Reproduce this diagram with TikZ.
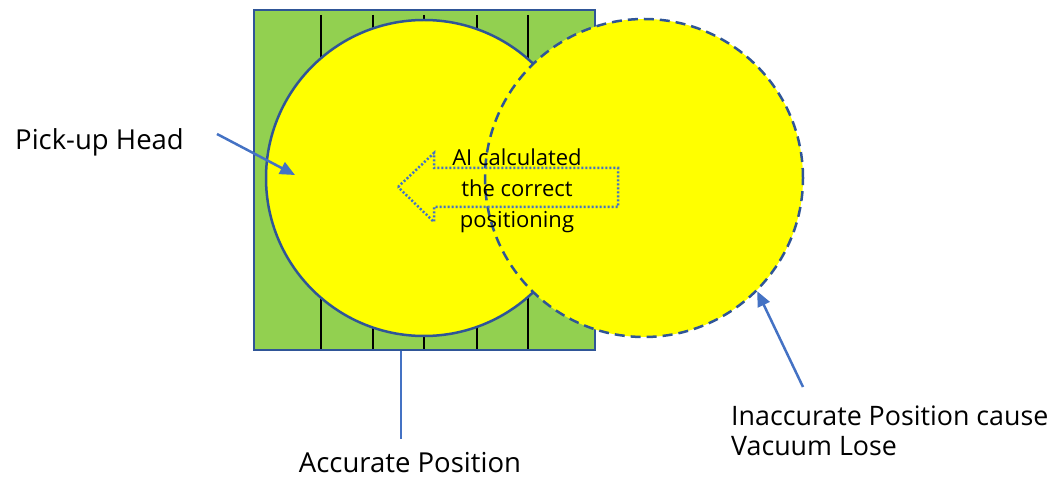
\documentclass[tikz,border=0pt]{standalone}
\usepackage{fontspec}
\setmainfont{Open Sans}
\usetikzlibrary{arrows.meta,positioning}

\definecolor{board}{HTML}{92D050}
\definecolor{padfill}{HTML}{FFFF00}
\definecolor{rim}{HTML}{2F5597}
\definecolor{callout}{HTML}{4472C4}

\begin{document}
\begin{tikzpicture}[x=1pt,y=-1pt,
	pad/.style={circle,minimum size=316pt,inner sep=0pt,fill=padfill,draw=rim,line width=2.5pt},
	lbl/.style={font=\fontsize{27.5}{30}\selectfont,inner sep=0pt},
	pointer/.style={draw=callout,line width=2.5pt,-{Triangle[length=15pt,width=13pt]}}]
\useasboundingbox (0,0) rectangle (1055,478);
% board with leads
\draw[rim,line width=2.5pt,fill=board] (254,10) rectangle (595,350);
\foreach \x in {321,373,424,477,528}
	\draw[black,line width=2.5pt] (\x,15) -- (\x,349);
% pick-up head and shifted head
\node[pad] (head) at (424,178) {};
\node[pad,minimum size=318pt,dash pattern=on 10pt off 6pt] (miss) at (644,178) {};
% correction arrow
\draw[callout,line width=2.5pt,dash pattern=on 2pt off 2pt]
	(398,187) -- (434,153) -- (434,168) -- (618,168) -- (618,207)
	-- (434,207) -- (434,222) -- cycle;
\node[font=\fontsize{22}{31}\selectfont,align=center,inner sep=0pt] (fix) at (517,191)
	{AI calculated\\the correct\\positioning};
% labels
\node[lbl,anchor=base west] (pick) at (15,150) {Pick-up Head};
\node[lbl,anchor=base] (good) at (410,472) {Accurate Position};
\node[lbl,font=\fontsize{26.8}{30}\selectfont,anchor=base west,align=left] (bad) at (731,455)
	{Inaccurate Position cause\\Vacuum Lose};
\coordinate (pickTail) at (217,134);
\coordinate (pickTip) at (295,175);
\coordinate (goodTop) at (401,351);
\coordinate (goodEnd) at (401,439);
\coordinate (badTail) at (803,387);
\draw[pointer] (pickTail) -- (pickTip);
\draw[callout,line width=2.5pt] (goodTop) -- (goodEnd);
\draw[pointer] (badTail) -- (miss.-45);
\end{tikzpicture}
\end{document}
